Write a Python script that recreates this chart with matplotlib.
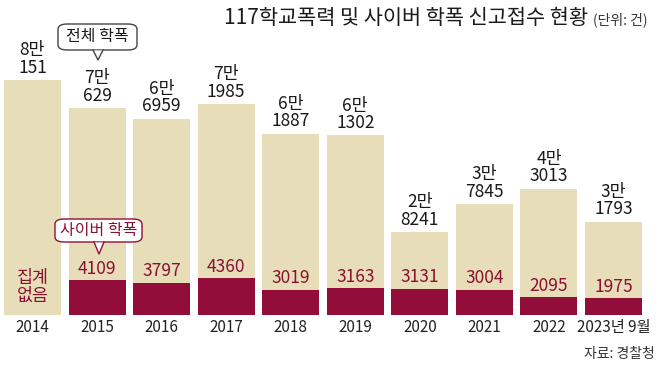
import matplotlib
matplotlib.use("Agg")
import matplotlib.pyplot as plt
import numpy as np
from matplotlib.patches import Polygon, FancyBboxPatch
from matplotlib.lines import Line2D

plt.rcParams['font.family'] = ['Noto Sans CJK KR', 'DejaVu Sans']

years = ['2014', '2015', '2016', '2017', '2018', '2019', '2020', '2021', '2022', '2023년 9월']
total = [80151, 70629, 66959, 71985, 61887, 61302, 28241, 37845, 43013, 31793]
cyber = [np.nan, 4109, 3797, 4360, 3019, 3163, 3131, 3004, 2095, 1975]

BEIGE = '#e8ddb9'
DARK = '#930d3a'
RED_TXT = '#8a1030'
W, H = 658, 367

fig = plt.figure(figsize=(W / 100, H / 100), dpi=100)
fig.patch.set_facecolor('white')

ax = fig.add_axes([0, 0, 1, 1])
ax2 = ax.twinx()
for a in (ax, ax2):
    a.axis('off')

# pixel layout: centers 32.5 + 64.56*i, baseline at y=315 from top
pitch = 64.56
ax.set_xlim(-32.5 / pitch, (W - 32.5) / pitch)
ax2.set_xlim(ax.get_xlim())
ax.set_ylim(-(H - 315) / 0.00293, 315 / 0.00293)
ax2.set_ylim(-(H - 315) / 0.0084, 315 / 0.0084)

x = np.arange(len(years))
ax.bar(x, total, width=0.883, color=BEIGE, zorder=1)
ax2.bar(x, np.nan_to_num(cyber), width=0.883, color=DARK, zorder=2)

for i, v in enumerate(total):
    lab = f"{v // 10000}만\n{v % 10000}"
    ax.annotate(lab, (x[i], v), xytext=(0, 2.5), textcoords='offset points',
                ha='center', va='bottom', fontsize=12.5, linespacing=0.95,
                color='#1a1a1a')

for i, v in enumerate(cyber):
    if np.isnan(v):
        ax2.text(x[i], 1150, "집계\n없음", ha='center', va='bottom',
                 fontsize=12.5, color=RED_TXT, linespacing=1.0)
        continue
    ax2.annotate(f"{int(v)}", (x[i], v), xytext=(0, 2), textcoords='offset points',
                 ha='center', va='bottom', fontsize=12.5, color=RED_TXT)

for i, y in enumerate(years):
    ax.text(x[i], -4100, y, ha='center', va='center', fontsize=11,
            color='#222222')


def fx(px):
    return px / W


def fy(py):
    return 1 - py / H


def callout(cx, cy, x0, x1, y0, y1, tip, text, ec, tc):
    box = FancyBboxPatch((fx(x0), fy(y1)), fx(x1 - x0), (y1 - y0) / H,
                         boxstyle="round,pad=0,rounding_size=0.014",
                         transform=fig.transFigure, facecolor='white',
                         edgecolor=ec, linewidth=1.0, zorder=5)
    fig.add_artist(box)
    tx, ty = tip
    tri = Polygon([(fx(tx - 5), fy(y1 + 0.5)), (fx(tx + 5), fy(y1 + 0.5)), (fx(tx), fy(ty))],
                  closed=True, transform=fig.transFigure, facecolor='white',
                  edgecolor='none', zorder=6)
    fig.add_artist(tri)
    fig.add_artist(Line2D([fx(tx - 5), fx(tx), fx(tx + 5)], [fy(y1), fy(ty), fy(y1)],
                          transform=fig.transFigure, color=ec, linewidth=1.0, zorder=7))
    fig.text(fx(cx), fy(cy), text, ha='center', va='center', fontsize=11.5,
             color=tc, zorder=8)


callout(97.5, 36.5, 58, 137, 24, 50, (98, 60), "전체 학폭", '#444444', '#1a1a1a')
callout(98.5, 230, 55, 142, 219, 242, (99, 254), "사이버 학폭", DARK, RED_TXT)

fig.text(fx(588), fy(18), "117학교폭력 및 사이버 학폭 신고접수 현황", ha='right', va='center',
         fontsize=15, fontweight='medium', color='#1a1a1a')
fig.text(fx(593), fy(20), "(단위: 건)", ha='left', va='center', fontsize=10,
         color='#333333')
fig.text(fx(655), fy(354), "자료: 경찰청", ha='right', va='center', fontsize=10,
         color='#333333')

fig.savefig("out.png", dpi=100, facecolor='white')
